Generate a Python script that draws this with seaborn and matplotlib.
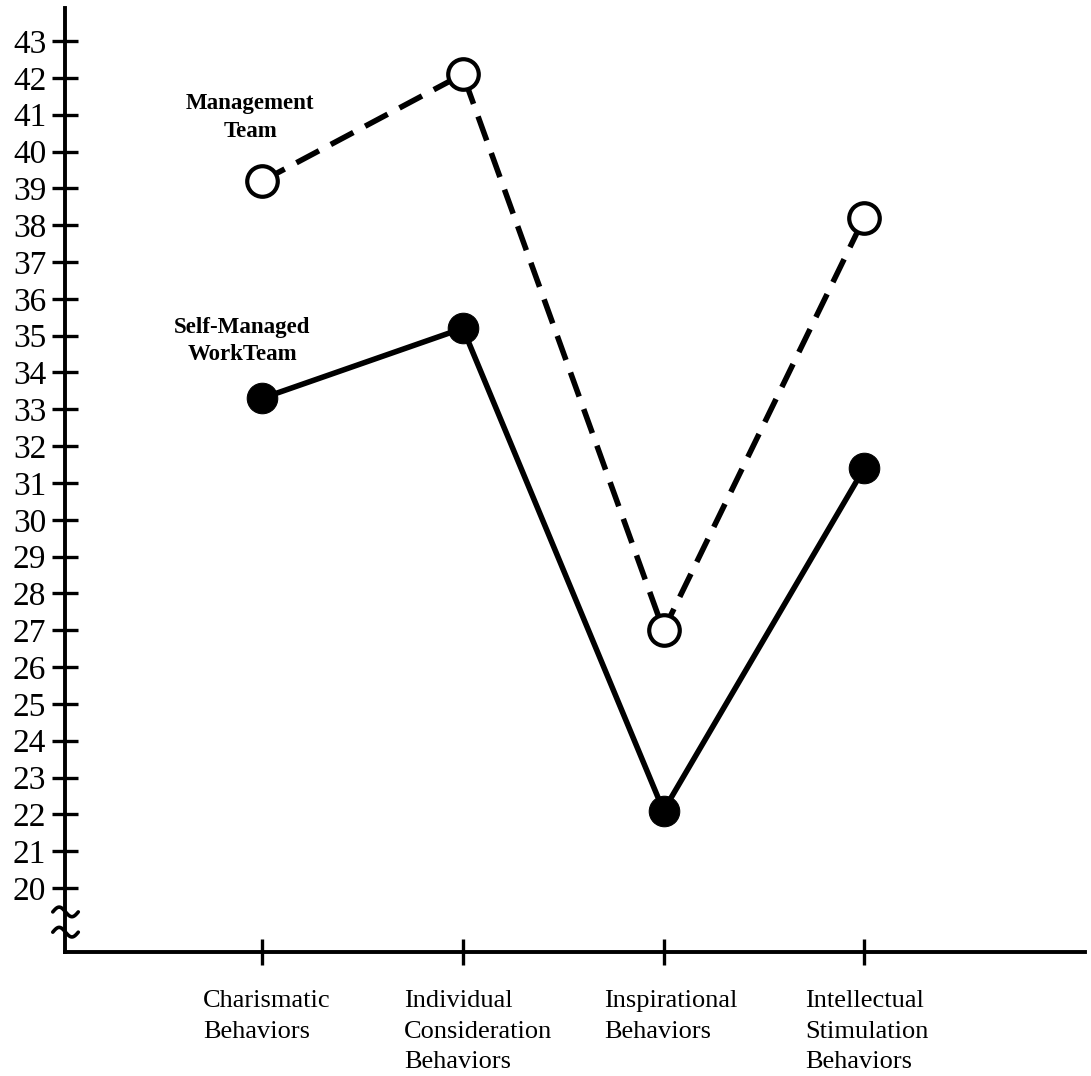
import numpy as np
import pandas as pd
import seaborn as sns
import matplotlib.pyplot as plt
from matplotlib import transforms

categories = ["Charismatic", "Individual", "Inspirational", "Intellectual"]
tick_labels = ["Charismatic\nBehaviors",
               "Individual\nConsideration\nBehaviors",
               "Inspirational\nBehaviors",
               "Intellectual\nStimulation\nBehaviors"]
management_team = [39.2, 42.1, 27.0, 38.2]
self_managed_team = [33.3, 35.2, 22.1, 31.4]
y_ticks = list(range(20, 44))


def draw_break(ax, y_center):
    """Small squiggle across the y spine to mark the axis break."""
    trans = transforms.blended_transform_factory(ax.transAxes, ax.transData)
    t = np.linspace(0, 1, 40)
    xs = -0.012 + 0.025 * t
    ys = y_center + 0.13 * np.sin(2 * np.pi * t)
    ax.plot(xs, ys, color="black", lw=2.6, transform=trans, clip_on=False)


def main():
    sns.set_style("white")
    plt.rcParams["font.family"] = ["Liberation Serif", "DejaVu Serif"]

    fig = plt.figure(figsize=(10.91, 10.76), dpi=100)
    ax = fig.add_axes([0.0596, 0.1152, 0.9349, 0.8774])

    df = pd.DataFrame({"category": categories,
                       "mgmt": management_team,
                       "self": self_managed_team})

    sns.lineplot(data=df, x="category", y="self", ax=ax, sort=False,
                 color="black", lw=4, marker="o", markersize=22,
                 markerfacecolor="black", markeredgecolor="black")
    sns.lineplot(data=df, x="category", y="mgmt", ax=ax, sort=False,
                 color="black", lw=4, marker="o", markersize=22,
                 markerfacecolor="white", markeredgecolor="black",
                 markeredgewidth=3)
    ax.lines[-1].set_dashes((4.6, 2.4))

    ax.set_xlim(-0.982, 4.10)
    ax.set_ylim(18.26, 43.9)
    ax.set_yticks(y_ticks)
    ax.set_yticklabels([str(v) for v in y_ticks], fontsize=24)
    ax.set_xticks(range(len(categories)))
    ax.set_xticklabels(tick_labels, fontsize=19, ha="left", va="top",
                       multialignment="left", linespacing=1.5)

    ax.set_xlabel("")
    ax.set_ylabel("")
    ax.tick_params(axis="both", direction="inout", length=19, width=2.4,
                   color="black", labelcolor="black",
                   bottom=True, left=True)
    ax.tick_params(axis="y", pad=4)
    ax.tick_params(axis="x", pad=18)

    # labels sit left-aligned a little before each tick
    shift = transforms.ScaledTranslation(-0.59, 0, fig.dpi_scale_trans)
    for lab in ax.get_xticklabels():
        lab.set_transform(lab.get_transform() + shift)

    for side in ["top", "right"]:
        ax.spines[side].set_visible(False)
    for side in ["left", "bottom"]:
        ax.spines[side].set_linewidth(2.8)
        ax.spines[side].set_color("black")

    draw_break(ax, 19.35)
    draw_break(ax, 18.8)

    ax.text(-0.06, 40.93, "Management\nTeam", fontsize=16.5, fontweight="bold",
            color="black", ha="center", va="center", linespacing=1.4)
    ax.text(-0.10, 34.85, "Self-Managed\nWorkTeam", fontsize=16.5,
            fontweight="bold", color="black", ha="center", va="center",
            linespacing=1.4)

    fig.savefig("out.png", dpi=100)


if __name__ == "__main__":
    main()
